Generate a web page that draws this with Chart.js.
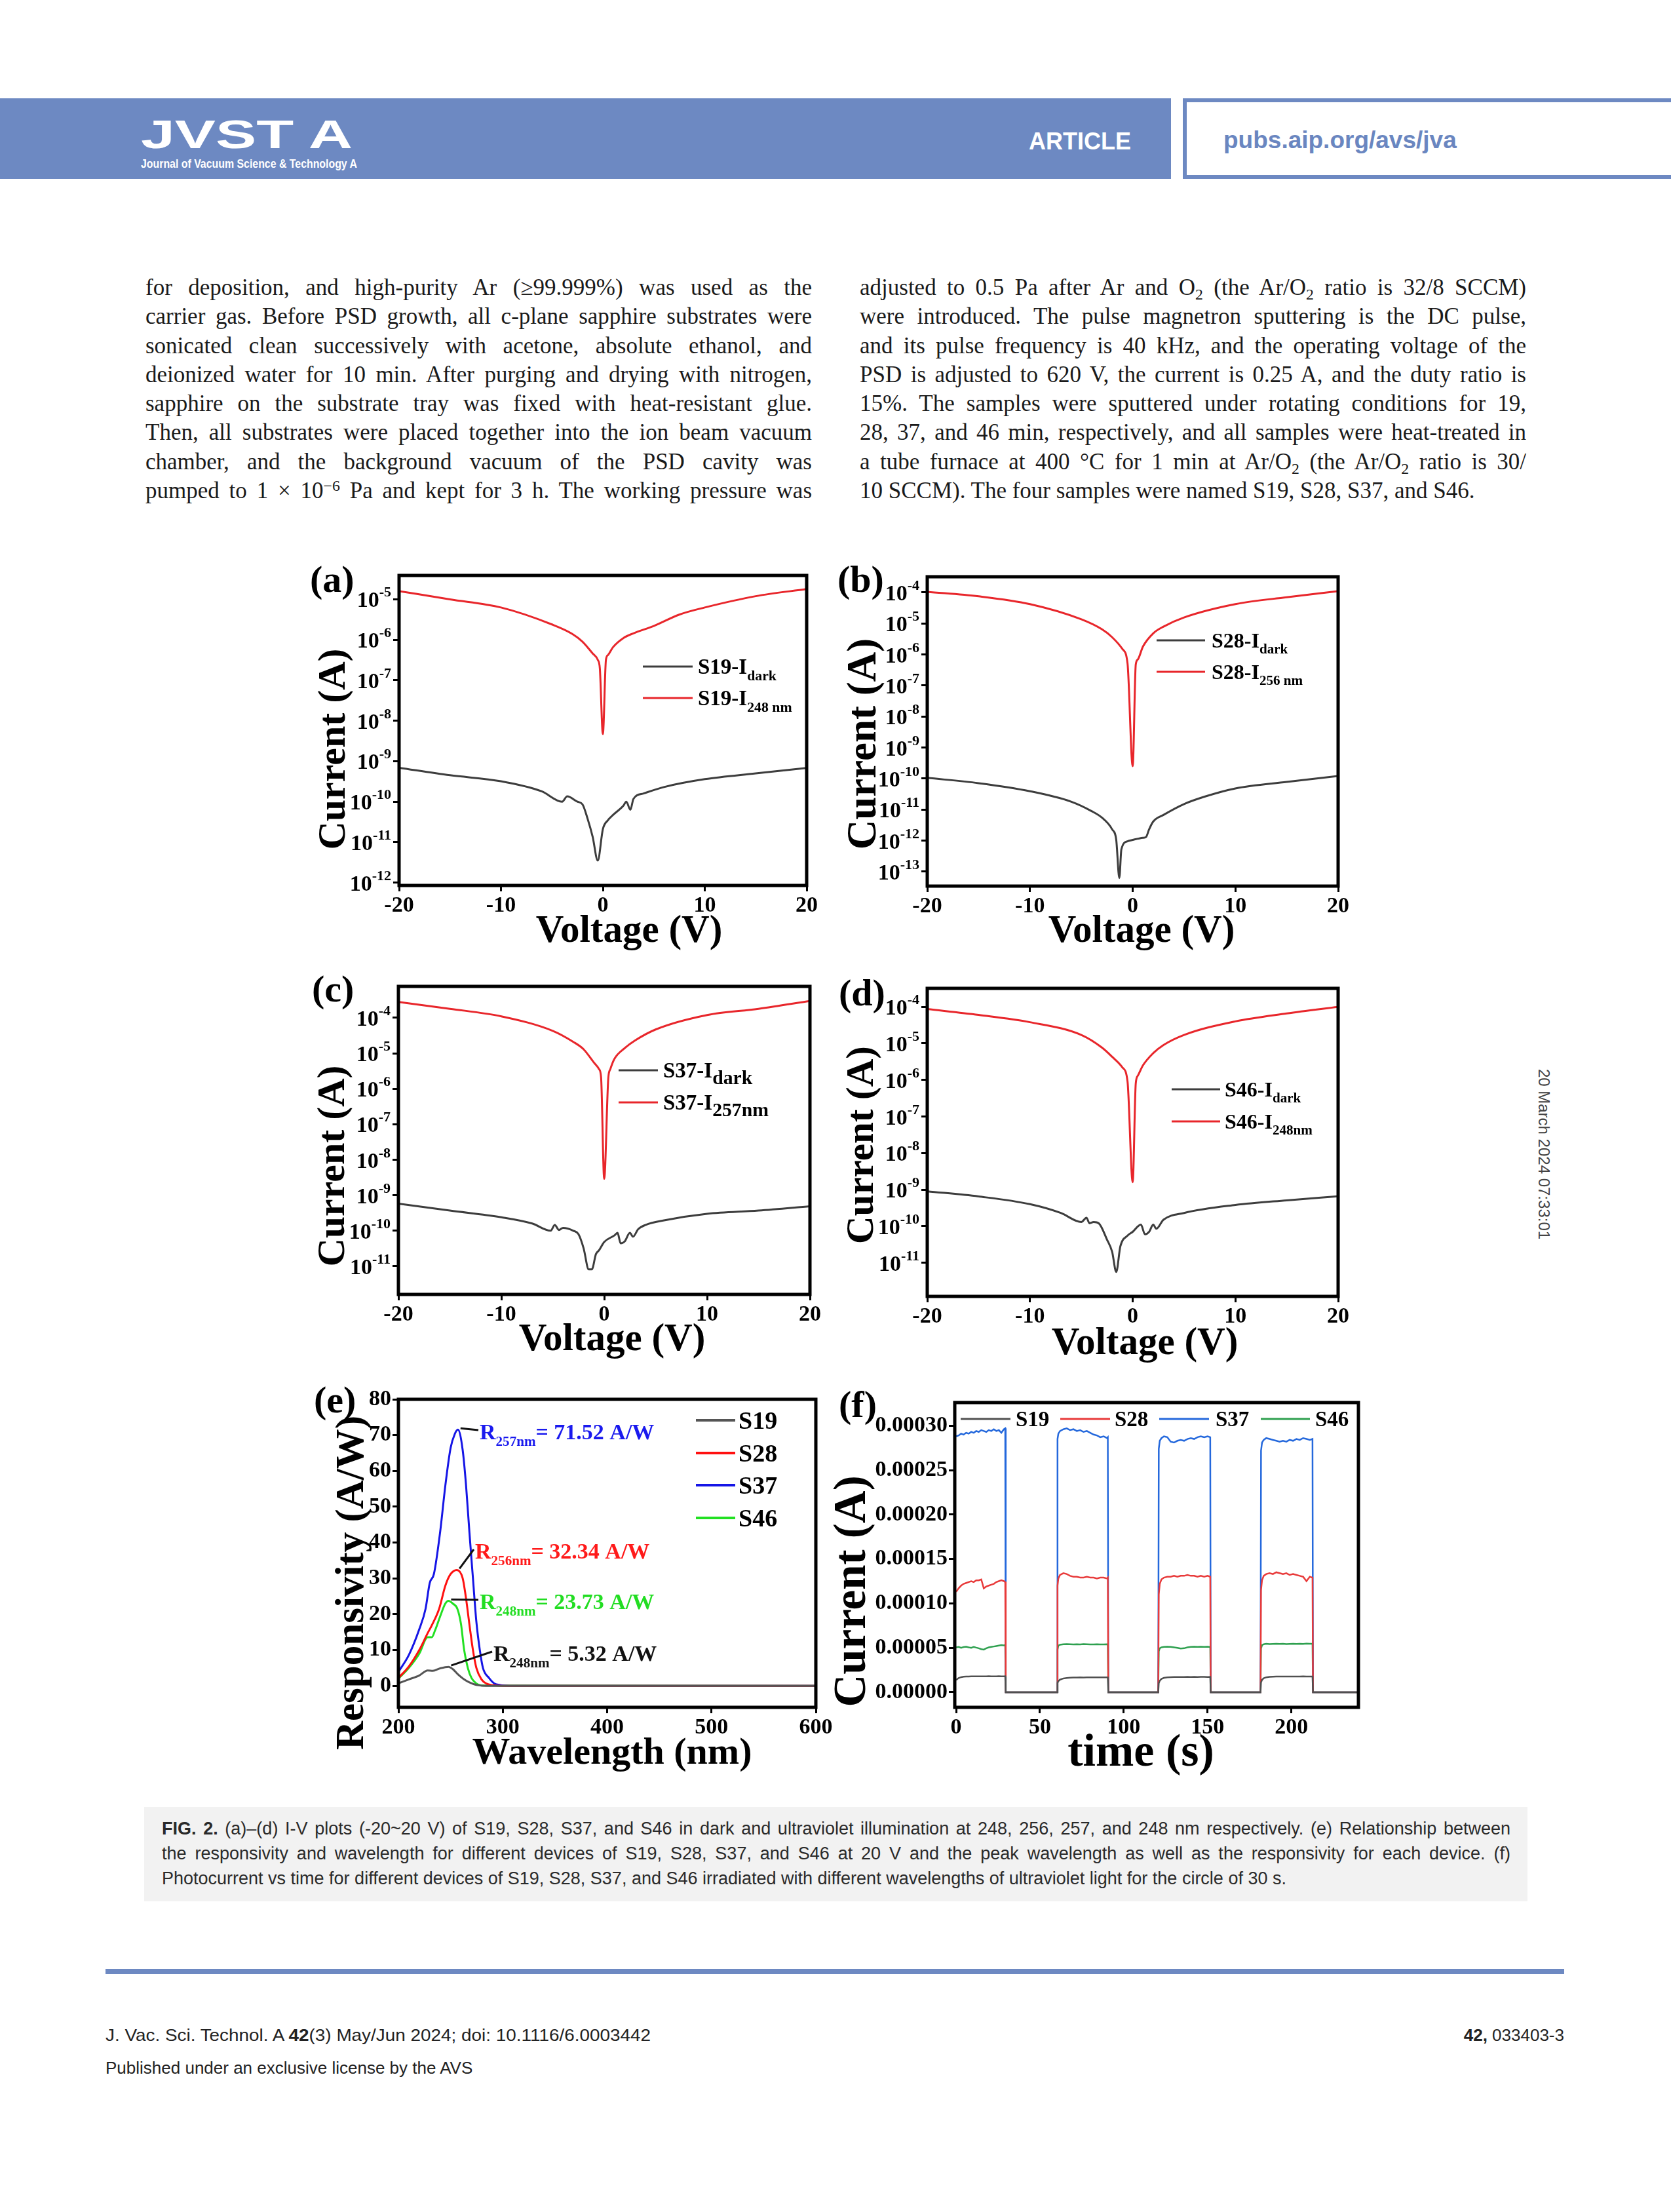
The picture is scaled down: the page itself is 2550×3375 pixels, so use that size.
<!DOCTYPE html>
<html>
<head>
<meta charset="utf-8">
<title>JVST A - Fig. 2</title>
<script src="https://cdn.jsdelivr.net/npm/chart.js@4.4.1/dist/chart.umd.min.js"></script>
<style>
  html, body { margin: 0; padding: 0; background: #fff; }
  #page { position: relative; width: 2550px; height: 3375px; overflow: hidden; background: #fff; }
  .abs { position: absolute; }
  .jl { position: absolute; white-space: nowrap; }
  .txt { font-family: "Liberation Serif", "Times New Roman", serif; font-size: 35px; line-height: 44px; color: #1a1a1a; }
  .txt sub { font-size: 0.68em; vertical-align: -0.28em; line-height: 0; }
  .txt sup { font-size: 0.68em; vertical-align: 0.45em; line-height: 0; }
  .cap { font-family: "Liberation Sans", Arial, sans-serif; font-size: 27px; line-height: 30px; color: #2a2a2a; }
  .foot { font-family: "Liberation Sans", Arial, sans-serif; font-size: 26px; line-height: 30px; color: #222; white-space: nowrap; }
  .fx { transform-origin: 0 0; white-space: nowrap; }
  canvas { position: absolute; }
</style>
</head>
<body>
<div id="page">
  <!-- header -->
  <div class="abs" style="left:0;top:150px;width:1787px;height:123px;background:#6d89c2"></div>
  <div class="abs" style="left:1805px;top:150px;width:745px;height:123px;border:6px solid #6d89c2;border-right:0;box-sizing:border-box"></div>
  <div class="abs fx" data-w="323" style="left:215px;top:174px;font:bold 62px/62px 'Liberation Sans',Arial,sans-serif;color:#fff">JVST A</div>
  <div class="abs fx" data-w="330" style="left:215px;top:240px;font:bold 19px/19px 'Liberation Sans',Arial,sans-serif;color:#fff">Journal of Vacuum Science &amp; Technology A</div>
  <div class="abs" style="left:1570px;top:198px;font:bold 36px/36px 'Liberation Sans',Arial,sans-serif;color:#fff">ARTICLE</div>
  <div class="abs" style="left:1867px;top:195px;font:bold 37px/37px 'Liberation Sans',Arial,sans-serif;color:#6a86c0">pubs.aip.org/avs/jva</div>

  <!-- body text, left column -->
  <div class="jl txt" data-w="1017" style="left:222px;top:417px">for deposition, and high-purity Ar (≥99.999%) was used as the</div>
  <div class="jl txt" data-w="1017" style="left:222px;top:461px">carrier gas. Before PSD growth, all c-plane sapphire substrates were</div>
  <div class="jl txt" data-w="1017" style="left:222px;top:506px">sonicated clean successively with acetone, absolute ethanol, and</div>
  <div class="jl txt" data-w="1017" style="left:222px;top:550px">deionized water for 10 min. After purging and drying with nitrogen,</div>
  <div class="jl txt" data-w="1017" style="left:222px;top:594px">sapphire on the substrate tray was fixed with heat-resistant glue.</div>
  <div class="jl txt" data-w="1017" style="left:222px;top:638px">Then, all substrates were placed together into the ion beam vacuum</div>
  <div class="jl txt" data-w="1017" style="left:222px;top:683px">chamber, and the background vacuum of the PSD cavity was</div>
  <div class="jl txt" data-w="1017" style="left:222px;top:727px">pumped to 1 × 10<sup>−6</sup> Pa and kept for 3 h. The working pressure was</div>
  <!-- right column -->
  <div class="jl txt" data-w="1017" style="left:1312px;top:417px">adjusted to 0.5 Pa after Ar and O<sub>2</sub> (the Ar/O<sub>2</sub> ratio is 32/8 SCCM)</div>
  <div class="jl txt" data-w="1017" style="left:1312px;top:461px">were introduced. The pulse magnetron sputtering is the DC pulse,</div>
  <div class="jl txt" data-w="1017" style="left:1312px;top:506px">and its pulse frequency is 40 kHz, and the operating voltage of the</div>
  <div class="jl txt" data-w="1017" style="left:1312px;top:550px">PSD is adjusted to 620 V, the current is 0.25 A, and the duty ratio is</div>
  <div class="jl txt" data-w="1017" style="left:1312px;top:594px">15%. The samples were sputtered under rotating conditions for 19,</div>
  <div class="jl txt" data-w="1017" style="left:1312px;top:638px">28, 37, and 46 min, respectively, and all samples were heat-treated in</div>
  <div class="jl txt" data-w="1017" style="left:1312px;top:683px">a tube furnace at 400 °C for 1 min at Ar/O<sub>2</sub> (the Ar/O<sub>2</sub> ratio is 30/</div>
  <div class="abs txt" style="left:1312px;top:727px;white-space:nowrap">10 SCCM). The four samples were named S19, S28, S37, and S46.</div>

  <!-- figure panels -->
  <canvas id="cA"></canvas>
  <canvas id="cB"></canvas>
  <canvas id="cC"></canvas>
  <canvas id="cD"></canvas>
  <canvas id="cE"></canvas>
  <canvas id="cF"></canvas>

  <!-- side stamp -->
  <div class="abs" style="left:2356px;top:1761px;transform:translate(-50%,-50%) rotate(90deg);font:24px 'Liberation Sans',Arial,sans-serif;color:#444;white-space:nowrap">20 March 2024 07:33:01</div>

  <!-- caption -->
  <div class="abs" style="left:220px;top:2757px;width:2111px;height:144px;background:#f2f2f2"></div>
  <div class="jl cap" data-w="2058" style="left:247px;top:2775px"><b>FIG. 2.</b> (a)–(d) I-V plots (-20~20 V) of S19, S28, S37, and S46 in dark and ultraviolet illumination at 248, 256, 257, and 248 nm respectively. (e) Relationship between</div>
  <div class="jl cap" data-w="2058" style="left:247px;top:2813px">the responsivity and wavelength for different devices of S19, S28, S37, and S46 at 20 V and the peak wavelength as well as the responsivity for each device. (f)</div>
  <div class="abs cap" style="left:247px;top:2851px;white-space:nowrap">Photocurrent vs time for different devices of S19, S28, S37, and S46 irradiated with different wavelengths of ultraviolet light for the circle of 30 s.</div>

  <!-- footer -->
  <div class="abs" style="left:161px;top:3004px;width:2226px;height:8px;background:#6d89c2"></div>
  <div class="abs foot fx" data-w="832" style="left:161px;top:3090px">J. Vac. Sci. Technol. A <b>42</b>(3) May/Jun 2024; doi: 10.1116/6.0003442</div>
  <div class="abs foot" style="right:163px;top:3090px"><b>42,</b> 033403-3</div>
  <div class="abs foot" style="left:161px;top:3140px">Published under an exclusive license by the AVS</div>
</div>

<script>
// ---------- (a) S19 ----------
const voltA_dark = [-20, -15, -10, -6, -4, -3.5, -2.5, -2, -1.5, -1, -0.5, 0, 0.5, 1, 2, 2.3, 2.7, 3, 4, 6, 10, 15, 20];
const curA_dark = [6.9e-10, 4.5e-10, 3.2e-10, 1.8e-10, 1.0e-10, 1.35e-10, 1.0e-10, 8.6e-11, 3.8e-11, 1.35e-11, 3.5e-12, 2.1e-11, 3.5e-11, 4.7e-11, 7.9e-11, 1.0e-10, 6.3e-11, 1.17e-10, 1.6e-10, 2.3e-10, 3.6e-10, 5.0e-10, 6.8e-10];
const voltA_uv = [-20, -15, -10, -5, -3, -2, -1, -0.5, -0.3, 0, 0.3, 0.5, 1, 2, 3, 5, 7.5, 10, 15, 20];
const curA_uv = [1.6e-5, 1.0e-5, 6.3e-6, 2.4e-6, 1.4e-6, 9.0e-7, 4.6e-7, 3.2e-7, 2.0e-7, 4.7e-9, 3.2e-7, 4.2e-7, 6.6e-7, 1.1e-6, 1.45e-6, 2.2e-6, 4.2e-6, 6.3e-6, 1.2e-5, 1.8e-5];

// ---------- (b) S28 ----------
const voltB_dark = [-20, -15, -10, -6, -4, -3, -2, -1.6, -1.3, -1.1, -0.5, 0, 1, 1.3, 1.6, 2, 3, 5, 7, 10, 15, 20];
const curB_dark = [1.05e-10, 7.1e-11, 3.9e-11, 1.8e-11, 8.9e-12, 5.5e-12, 2.3e-12, 1.05e-12, 6.2e-14, 5.2e-13, 9.5e-13, 1.05e-12, 1.23e-12, 1.3e-12, 2.3e-12, 4.1e-12, 6.7e-12, 1.5e-11, 2.6e-11, 4.8e-11, 7.8e-11, 1.2e-10];
const voltB_uv = [-20, -15, -10, -5, -3, -2, -1, -0.5, 0, 0.3, 0.5, 1, 2, 3, 5, 10, 15, 20];
const curB_uv = [1.05e-4, 7.5e-5, 4.2e-5, 1.36e-5, 6.5e-6, 3.6e-6, 1.5e-6, 5.1e-7, 2.5e-10, 4.7e-7, 6.9e-7, 1.8e-6, 4.8e-6, 7.9e-6, 1.56e-5, 4.2e-5, 7.0e-5, 1.1e-4];

// ---------- (c) S37 ----------
const voltC_dark = [-20, -15, -10, -7, -5.2, -4.8, -4.4, -4, -3, -2.5, -2, -1.5, -1.2, -0.8, -0.5, 0, 1, 1.3, 1.6, 2, 2.5, 2.8, 3.3, 4, 6, 10, 15, 20];
const curC_dark = [5.8e-10, 3.7e-10, 2.4e-10, 1.6e-10, 1.0e-10, 1.45e-10, 1.05e-10, 1.2e-10, 1.0e-10, 8.0e-11, 3.2e-11, 8.1e-12, 8.1e-12, 2.2e-11, 2.8e-11, 4.8e-11, 7.4e-11, 8.7e-11, 4.4e-11, 5.0e-11, 8.7e-11, 6.8e-11, 1.1e-10, 1.45e-10, 2.0e-10, 3.0e-10, 3.7e-10, 4.9e-10];
const voltC_uv = [-20, -15, -10, -5, -3, -2, -1, -0.5, -0.3, 0, 0.4, 0.6, 1, 2, 3, 5, 10, 15, 20];
const curC_uv = [2.8e-4, 1.8e-4, 1.1e-4, 4.3e-5, 2.1e-5, 1.3e-5, 5.5e-6, 3.6e-6, 2.1e-6, 2.9e-9, 2.0e-6, 3.6e-6, 7.0e-6, 1.4e-5, 2.3e-5, 4.7e-5, 1.2e-4, 1.8e-4, 3.0e-4];

// ---------- (d) S46 ----------
const voltD_dark = [-20, -15, -10, -7, -5, -4.5, -4.2, -3.8, -3.3, -2.5, -2, -1.6, -1.2, -0.5, 0, 0.8, 1.2, 1.6, 2, 2.3, 3, 5, 10, 15, 20];
const curD_dark = [9.0e-10, 6.5e-10, 4.0e-10, 2.3e-10, 1.3e-10, 1.7e-10, 1.2e-10, 1.3e-10, 1.2e-10, 4.3e-11, 2.0e-11, 5.6e-12, 2.8e-11, 5.5e-11, 7.0e-11, 1.1e-10, 6.0e-11, 7.0e-11, 1.1e-10, 8.5e-11, 1.5e-10, 2.3e-10, 3.8e-10, 5.1e-10, 6.6e-10];
const voltD_uv = [-20, -15, -10, -5, -3, -2, -1, -0.5, 0, 0.3, 0.5, 1, 2, 3, 5, 10, 15, 20];
const curD_uv = [8.7e-5, 6.0e-5, 3.8e-5, 1.7e-5, 7.7e-6, 4.3e-6, 2.2e-6, 9.0e-7, 1.6e-9, 8.0e-7, 1.3e-6, 2.5e-6, 5.4e-6, 9.0e-6, 1.7e-5, 4.0e-5, 6.6e-5, 1.0e-4];

// ---------- (e) responsivity ----------
const wlS19 = [200, 210, 220, 228, 233, 240, 248, 252, 257, 262, 267, 272, 277, 284, 290, 300, 350, 600];
const respS19 = [0.7, 1.8, 2.9, 4.3, 4.2, 4.9, 5.32, 4.7, 3.2, 2.0, 1.1, 0.5, 0.15, 0, 0, 0, 0, 0];
const wlS28 = [200, 210, 220, 228, 232, 239, 245, 250, 256, 261.5, 264.8, 268, 271.4, 274.7, 279.6, 284.5, 290, 300, 600];
const respS28 = [2.2, 5.4, 10, 14.7, 16.9, 21.5, 28, 31.2, 32.34, 30.1, 24.4, 17.2, 10, 5, 1.8, 0.6, 0.2, 0, 0];
const wlS37 = [200, 210, 220, 226, 230, 234, 240, 245, 250, 254, 257, 261.5, 264.8, 268, 271.4, 274.7, 278, 281, 286.8, 291.7, 298, 310, 600];
const respS37 = [3.9, 8.6, 15.8, 21.5, 28.7, 31.2, 43, 56, 66.4, 70.3, 71.52, 66, 56, 43, 30.1, 17.9, 10, 5, 2.2, 0.7, 0.2, 0, 0];
const wlS46 = [200, 210, 220, 228, 232, 235, 240, 245, 248, 252, 256.5, 260, 263, 266.5, 270, 274.5, 279.5, 600];
const respS46 = [2, 5, 9, 13.6, 13.6, 15.4, 19.4, 23, 23.73, 23, 21.5, 17.2, 10, 5, 2.2, 0.7, 0.1, 0];
const peakWl = [248, 256, 257, 248];          // S19, S28, S37, S46
const peakResp = [5.32, 32.34, 71.52, 23.73];

// ---------- (f) photocurrent vs time ----------
const timeF = [0, 1.5, 3, 4.5, 6, 7.5, 9, 10.5, 12, 13.5, 15, 16.5, 18, 19.5, 21, 22.5, 24, 25.5, 27, 28.5, 29.3,
  29.6, 45, 60.2,
  60.5, 61, 62, 64, 66, 68, 70, 72, 74, 76, 78, 80, 82, 84, 86, 88, 90, 90.5,
  90.8, 105, 120.6,
  120.9, 121.5, 122.5, 124, 126, 128, 130, 132, 134, 136, 138, 140, 142, 144, 146, 148, 150, 151.6,
  151.9, 166, 181.6,
  181.9, 182.5, 183.5, 185, 187, 189, 191, 193, 195, 197, 199, 201, 203, 205, 207, 209, 211, 212.6,
  212.9, 240];
const photoS19 = [1.38e-5, 1.60e-5, 1.70e-5, 1.74e-5, 1.76e-5, 1.77e-5, 1.78e-5, 1.78e-5, 1.79e-5, 1.78e-5, 1.79e-5, 1.78e-5, 1.79e-5, 1.80e-5, 1.79e-5, 1.78e-5, 1.79e-5, 1.80e-5, 1.79e-5, 1.78e-5, 1.79e-5,
  0, 0, 0,
  1.05e-5, 1.25e-5, 1.42e-5, 1.55e-5, 1.60e-5, 1.63e-5, 1.65e-5, 1.66e-5, 1.67e-5, 1.66e-5, 1.67e-5, 1.68e-5, 1.67e-5, 1.68e-5, 1.67e-5, 1.68e-5, 1.68e-5, 1.67e-5,
  0, 0, 0,
  1.00e-5, 1.30e-5, 1.50e-5, 1.62e-5, 1.68e-5, 1.70e-5, 1.71e-5, 1.72e-5, 1.71e-5, 1.72e-5, 1.73e-5, 1.72e-5, 1.73e-5, 1.72e-5, 1.73e-5, 1.73e-5, 1.72e-5, 1.73e-5,
  0, 0, 0,
  1.10e-5, 1.40e-5, 1.58e-5, 1.68e-5, 1.73e-5, 1.75e-5, 1.76e-5, 1.76e-5, 1.77e-5, 1.76e-5, 1.77e-5, 1.77e-5, 1.76e-5, 1.77e-5, 1.78e-5, 1.77e-5, 1.77e-5, 1.77e-5,
  0, 0];
const photoS28 = [1.13e-4, 1.17e-4, 1.20e-4, 1.22e-4, 1.23e-4, 1.24e-4, 1.25e-4, 1.24e-4, 1.26e-4, 1.26e-4, 1.27e-4, 1.17e-4, 1.19e-4, 1.20e-4, 1.21e-4, 1.22e-4, 1.24e-4, 1.25e-4, 1.26e-4, 1.25e-4, 1.24e-4,
  0, 0, 0,
  1.20e-4, 1.28e-4, 1.32e-4, 1.34e-4, 1.33e-4, 1.31e-4, 1.30e-4, 1.30e-4, 1.29e-4, 1.29e-4, 1.30e-4, 1.29e-4, 1.29e-4, 1.28e-4, 1.29e-4, 1.29e-4, 1.28e-4, 1.29e-4,
  0, 0, 0,
  1.10e-4, 1.22e-4, 1.27e-4, 1.29e-4, 1.30e-4, 1.30e-4, 1.31e-4, 1.30e-4, 1.31e-4, 1.31e-4, 1.32e-4, 1.31e-4, 1.31e-4, 1.30e-4, 1.31e-4, 1.30e-4, 1.31e-4, 1.30e-4,
  0, 0, 0,
  1.15e-4, 1.26e-4, 1.31e-4, 1.33e-4, 1.34e-4, 1.33e-4, 1.35e-4, 1.34e-4, 1.33e-4, 1.34e-4, 1.32e-4, 1.33e-4, 1.32e-4, 1.31e-4, 1.30e-4, 1.25e-4, 1.30e-4, 1.29e-4,
  0, 0];
const photoS37 = [2.88e-4, 2.89e-4, 2.91e-4, 2.90e-4, 2.92e-4, 2.91e-4, 2.93e-4, 2.92e-4, 2.94e-4, 2.93e-4, 2.95e-4, 2.94e-4, 2.93e-4, 2.95e-4, 2.94e-4, 2.96e-4, 2.94e-4, 2.95e-4, 2.92e-4, 2.96e-4, 2.97e-4,
  0, 0, 0,
  2.85e-4, 2.91e-4, 2.94e-4, 2.96e-4, 2.97e-4, 2.95e-4, 2.96e-4, 2.94e-4, 2.95e-4, 2.93e-4, 2.94e-4, 2.92e-4, 2.90e-4, 2.89e-4, 2.87e-4, 2.88e-4, 2.86e-4, 2.87e-4,
  0, 0, 0,
  2.74e-4, 2.83e-4, 2.86e-4, 2.88e-4, 2.87e-4, 2.82e-4, 2.81e-4, 2.83e-4, 2.84e-4, 2.83e-4, 2.85e-4, 2.86e-4, 2.85e-4, 2.87e-4, 2.88e-4, 2.87e-4, 2.88e-4, 2.87e-4,
  0, 0, 0,
  2.72e-4, 2.81e-4, 2.84e-4, 2.86e-4, 2.85e-4, 2.84e-4, 2.83e-4, 2.82e-4, 2.83e-4, 2.82e-4, 2.84e-4, 2.83e-4, 2.85e-4, 2.84e-4, 2.86e-4, 2.85e-4, 2.84e-4, 2.85e-4,
  0, 0];
const photoS46 = [5.05e-5, 5.10e-5, 5.00e-5, 5.08e-5, 5.12e-5, 5.05e-5, 5.00e-5, 5.10e-5, 5.02e-5, 4.95e-5, 4.85e-5, 4.80e-5, 4.95e-5, 5.05e-5, 5.10e-5, 5.15e-5, 5.20e-5, 5.25e-5, 5.30e-5, 5.28e-5, 5.32e-5,
  0, 0, 0,
  4.80e-5, 5.25e-5, 5.35e-5, 5.40e-5, 5.42e-5, 5.40e-5, 5.38e-5, 5.40e-5, 5.39e-5, 5.41e-5, 5.40e-5, 5.38e-5, 5.39e-5, 5.40e-5, 5.38e-5, 5.39e-5, 5.40e-5, 5.38e-5,
  0, 0, 0,
  4.60e-5, 4.95e-5, 5.05e-5, 5.10e-5, 5.12e-5, 5.10e-5, 5.05e-5, 5.00e-5, 4.92e-5, 4.95e-5, 5.05e-5, 5.10e-5, 5.12e-5, 5.10e-5, 5.12e-5, 5.11e-5, 5.12e-5, 5.10e-5,
  0, 0, 0,
  4.90e-5, 5.30e-5, 5.40e-5, 5.45e-5, 5.42e-5, 5.44e-5, 5.46e-5, 5.43e-5, 5.45e-5, 5.42e-5, 5.44e-5, 5.46e-5, 5.44e-5, 5.45e-5, 5.43e-5, 5.47e-5, 5.45e-5, 5.46e-5,
  0, 0];

// ---------- tick lists ----------
const ivVoltTicks = [-20, -10, 0, 10, 20];
const expA = [-12, -11, -10, -9, -8, -7, -6, -5];
const expB = [-13, -12, -11, -10, -9, -8, -7, -6, -5, -4];
const expC = [-11, -10, -9, -8, -7, -6, -5, -4];
const expD = [-11, -10, -9, -8, -7, -6, -5, -4];
const wlTicks = [200, 300, 400, 500, 600];
const respTicks = [0, 10, 20, 30, 40, 50, 60, 70, 80];
const timeTicks = [0, 50, 100, 150, 200];
const photoTicks = [0, 0.00005, 0.0001, 0.00015, 0.0002, 0.00025, 0.0003];

// ---------- helpers ----------
const SERIF = '"Liberation Serif", "Times New Roman", serif';
const DARK = '#3d3d3d', RED = '#e8262b';

function pts(xs, ys) {
  return xs.map((x, i) => ({ x: x, y: ys[i] }));
}

function line(xs, ys, color, w, smooth) {
  return {
    data: pts(xs, ys), borderColor: color, borderWidth: w, pointRadius: 0, fill: false,
    tension: 0, cubicInterpolationMode: smooth ? 'monotone' : 'default'
  };
}

function axis(extra, ticksExtra) {
  const s = {
    grid: { drawOnChartArea: false, drawTicks: true, tickLength: 9, tickWidth: 3, tickColor: '#000' },
    border: { display: false },
    ticks: Object.assign({ font: { family: SERIF, size: 34, weight: 'bold' }, color: '#000', padding: 2,
      autoSkip: false, maxRotation: 0, minRotation: 0 }, ticksExtra || {})
  };
  return Object.assign(s, extra);
}

function fixedTicks(list) {
  return s => { s.ticks = list.map(v => ({ value: v })); };
}

// rich text: parts = [[text, isSub]], y is vertical middle of capitals
function rich(ctx, parts, x, y, size, subRatio, color) {
  ctx.fillStyle = color;
  ctx.textAlign = 'left';
  ctx.textBaseline = 'alphabetic';
  let cx = x;
  const base = y + size * 0.33;
  parts.forEach(p => {
    const fs = p[1] ? size * subRatio : size;
    ctx.font = 'bold ' + fs + 'px ' + SERIF;
    ctx.fillText(p[0], cx, base + (p[1] ? size * 0.3 : 0));
    cx += ctx.measureText(p[0]).width;
  });
}

// "10" with a raised exponent, right edge at x, centred on tick y
function powerLabel(ctx, value, x, y) {
  const e = String(Math.round(Math.log10(value)));
  ctx.fillStyle = '#000';
  ctx.textAlign = 'right';
  ctx.textBaseline = 'alphabetic';
  ctx.font = 'bold 22px ' + SERIF;
  const ew = ctx.measureText(e).width;
  ctx.fillText(e, x, y - 4);
  ctx.font = 'bold 34px ' + SERIF;
  ctx.fillText('10', x - ew, y + 12);
}

const decor = {
  id: 'decor',
  afterDatasetsDraw(chart, args, o) {
    const ctx = chart.ctx, a = chart.chartArea, ox = o.origin[0], oy = o.origin[1];
    ctx.save();
    (o.notes || []).forEach(n => {
      const px = chart.scales.x.getPixelForValue(n.wl), py = chart.scales.y.getPixelForValue(n.r);
      ctx.strokeStyle = '#111'; ctx.lineWidth = 3;
      ctx.beginPath(); ctx.moveTo(px + 4, py - 2); ctx.lineTo(n.x - ox - 2, n.y - oy - 3); ctx.stroke();
      rich(ctx, n.parts, n.x - ox, n.y - oy, n.size, 0.62, n.color);
    });
    ctx.lineWidth = 5; ctx.strokeStyle = '#000';
    ctx.strokeRect(a.left, a.top, a.right - a.left, a.bottom - a.top);
    if (o.powerTicks) {
      const ys = chart.scales.y;
      ys.ticks.forEach(t => powerLabel(ctx, t.value, a.left - 12, ys.getPixelForValue(t.value)));
    }
    (o.legend || []).forEach(l => {
      ctx.strokeStyle = l.color; ctx.lineWidth = l.w || 3;
      ctx.beginPath(); ctx.moveTo(l.x1 - ox, l.y - oy); ctx.lineTo(l.x2 - ox, l.y - oy); ctx.stroke();
      rich(ctx, l.parts, l.tx - ox, l.y - oy, l.size, l.sub || 0.66, '#000');
    });
    (o.texts || []).forEach(t => {
      ctx.save();
      ctx.translate(t.x - ox, t.y - oy);
      if (t.rot) ctx.rotate(-Math.PI / 2);
      ctx.font = 'bold ' + t.size + 'px ' + SERIF;
      ctx.fillStyle = '#000';
      ctx.textAlign = t.align || 'center';
      ctx.textBaseline = 'middle';
      ctx.fillText(t.text, 0, 0);
      ctx.restore();
    });
    ctx.restore();
  }
};

// cv = [left, top, width, height] of canvas on the page, box = [left, top, right, bottom] of plot frame
function makeChart(id, cv, box, datasets, xOpt, yOpt, deco) {
  const c = document.getElementById(id);
  c.width = cv[2]; c.height = cv[3];
  c.style.left = cv[0] + 'px'; c.style.top = cv[1] + 'px';
  deco.origin = [cv[0], cv[1]];
  xOpt.afterFit = s => { s.height = cv[1] + cv[3] - box[3]; };
  yOpt.afterFit = s => { s.width = box[0] - cv[0]; };
  return new Chart(c, {
    type: 'line',
    data: { datasets: datasets },
    options: {
      responsive: false, animation: false, devicePixelRatio: 1,
      layout: { padding: { left: 0, top: box[1] - cv[1], right: cv[0] + cv[2] - box[2], bottom: 0 } },
      plugins: { legend: { display: false }, tooltip: { enabled: false }, decor: deco },
      scales: { x: xOpt, y: yOpt }
    },
    plugins: [decor]
  });
}

function ivX() {
  return axis({ type: 'linear', min: -20, max: 20, afterBuildTicks: fixedTicks(ivVoltTicks) });
}
function ivY(min, max, exps) {
  // labels drawn by the decor plugin as 10 with a raised exponent
  return axis({ type: 'logarithmic', min: min, max: max, afterBuildTicks: fixedTicks(exps.map(e => Math.pow(10, e))) },
    { display: false });
}
function ivLegend(x1, x2, tx, y1, y2, size, subRatio, name, sub1, sub2) {
  return [
    { color: DARK, x1: x1, x2: x2, tx: tx, y: y1, size: size, sub: subRatio, parts: [[name + '-I', 0], [sub1, 1]] },
    { color: RED, x1: x1, x2: x2, tx: tx, y: y2, size: size, sub: subRatio, parts: [[name + '-I', 0], [sub2, 1]] }
  ];
}

// ---------- (a) ----------
makeChart('cA', [440, 840, 825, 620], [609, 878, 1231, 1351],
  [line(voltA_dark, curA_dark, DARK, 3, true), line(voltA_uv, curA_uv, RED, 3, true)],
  ivX(), ivY(8.5e-13, 3.9e-5, expA),
  { powerTicks: true,
    texts: [
      { text: '(a)', x: 473, y: 888, size: 58, align: 'left' },
      { text: 'Current (A)', x: 510, y: 1143, size: 60, rot: true },
      { text: 'Voltage (V)', x: 960, y: 1422, size: 59 }],
    legend: ivLegend(981, 1057, 1065, 1017, 1065, 33, 0.66, 'S19', 'dark', '248 nm') });

// ---------- (b) ----------
makeChart('cB', [1265, 840, 815, 620], [1415, 880, 2042, 1352],
  [line(voltB_dark, curB_dark, DARK, 3, true), line(voltB_uv, curB_uv, RED, 3, true)],
  ivX(), ivY(3.4e-14, 3.2e-4, expB),
  { powerTicks: true,
    texts: [
      { text: '(b)', x: 1278, y: 888, size: 58, align: 'left' },
      { text: 'Current (A)', x: 1320, y: 1135, size: 63, rot: true },
      { text: 'Voltage (V)', x: 1742, y: 1422, size: 59 }],
    legend: ivLegend(1765, 1839, 1849, 977, 1025, 32, 0.66, 'S28', 'dark', '256 nm') });

// ---------- (c) ----------
makeChart('cC', [440, 1470, 825, 620], [608, 1505, 1236, 1975],
  [line(voltC_dark, curC_dark, DARK, 3, true), line(voltC_uv, curC_uv, RED, 3, true)],
  ivX(), ivY(1.6e-12, 7.7e-4, expC),
  { powerTicks: true,
    texts: [
      { text: '(c)', x: 476, y: 1513, size: 58, align: 'left' },
      { text: 'Current (A)', x: 509, y: 1779, size: 60, rot: true },
      { text: 'Voltage (V)', x: 934, y: 2045, size: 59 }],
    legend: ivLegend(944, 1004, 1012, 1633, 1682, 33, 0.9, 'S37', 'dark', '257nm') });

// ---------- (d) ----------
makeChart('cD', [1265, 1470, 815, 620], [1415, 1508, 2042, 1978],
  [line(voltD_dark, curD_dark, DARK, 3, true), line(voltD_uv, curD_uv, RED, 3, true)],
  ivX(), ivY(1.2e-12, 3.2e-4, expD),
  { powerTicks: true,
    texts: [
      { text: '(d)', x: 1280, y: 1519, size: 58, align: 'left' },
      { text: 'Current (A)', x: 1317, y: 1747, size: 59, rot: true },
      { text: 'Voltage (V)', x: 1747, y: 2051, size: 59 }],
    legend: ivLegend(1788, 1862, 1869, 1662, 1711, 32, 0.66, 'S46', 'dark', '248nm') });

// ---------- (e) ----------
const E_COL = ['#555555', '#ff1010', '#1515e6', '#22e022'];
makeChart('cE', [440, 2100, 835, 620], [608, 2135, 1245, 2605],
  [line(wlS19, respS19, E_COL[0], 3, true), line(wlS28, respS28, E_COL[1], 3, true),
   line(wlS37, respS37, E_COL[2], 3, true), line(wlS46, respS46, E_COL[3], 3, true)],
  axis({ type: 'linear', min: 200, max: 600, afterBuildTicks: fixedTicks(wlTicks) }),
  axis({ type: 'linear', min: -6, max: 80, afterBuildTicks: fixedTicks(respTicks) }),
  { texts: [
      { text: '(e)', x: 479, y: 2140, size: 58, align: 'left' },
      { text: 'Responsivity (A/W)', x: 538, y: 2415, size: 61, rot: true },
      { text: 'Wavelength (nm)', x: 934, y: 2676, size: 58 }],
    legend: ['S19', 'S28', 'S37', 'S46'].map((n, i) => ({ color: E_COL[i], w: 4, x1: 1062, x2: 1122, tx: 1127,
      y: [2167, 2217, 2266, 2316][i], size: 38, parts: [[n, 0]] })),
    notes: [
      { wl: peakWl[2], r: peakResp[2], x: 732, y: 2185, size: 34, color: '#1a1aee',
        parts: [['R', 0], [peakWl[2] + 'nm', 1], ['= ' + peakResp[2].toFixed(2) + ' A/W', 0]] },
      { wl: peakWl[1], r: peakResp[1], x: 725, y: 2367, size: 34, color: '#ff1a1a',
        parts: [['R', 0], [peakWl[1] + 'nm', 1], ['= ' + peakResp[1].toFixed(2) + ' A/W', 0]] },
      { wl: peakWl[3], r: peakResp[3], x: 732, y: 2444, size: 34, color: '#22dd22',
        parts: [['R', 0], [peakWl[3] + 'nm', 1], ['= ' + peakResp[3].toFixed(2) + ' A/W', 0]] },
      { wl: peakWl[0], r: peakResp[0], x: 753, y: 2523, size: 34, color: '#111',
        parts: [['R', 0], [peakWl[0] + 'nm', 1], ['= ' + peakResp[0].toFixed(2) + ' A/W', 0]] }] });

// ---------- (f) ----------
const F_COL = ['#505050', '#e83a3a', '#2468dc', '#2ea04f'];
makeChart('cF', [1265, 2100, 825, 620], [1457, 2140, 2073, 2605],
  [line(timeF, photoS19, F_COL[0], 2.5, false), line(timeF, photoS28, F_COL[1], 2.5, false),
   line(timeF, photoS37, F_COL[2], 2.5, false), line(timeF, photoS46, F_COL[3], 2.5, false)],
  axis({ type: 'linear', min: -0.8, max: 240, afterBuildTicks: fixedTicks(timeTicks) }),
  axis({ type: 'linear', min: -1.7e-5, max: 3.26e-4, afterBuildTicks: fixedTicks(photoTicks) },
    { callback: v => v.toFixed(5) }),
  { texts: [
      { text: '(f)', x: 1280, y: 2147, size: 58, align: 'left' },
      { text: 'Current (A)', x: 1302, y: 2428, size: 69, rot: true },
      { text: 'time (s)', x: 1741, y: 2676, size: 70 }],
    legend: ['S19', 'S28', 'S37', 'S46'].map((n, i) => ({ color: F_COL[i], w: 3,
      x1: [1466, 1618, 1769, 1924][i], x2: [1542, 1694, 1845, 1999][i], tx: [1550, 1701, 1855, 2007][i],
      y: 2165, size: 33, parts: [[n, 0]] })) });

// ---------- text fitting ----------
document.querySelectorAll('.jl').forEach(el => {
  const target = parseFloat(el.dataset.w);
  const nat = el.getBoundingClientRect().width;
  const gaps = (el.textContent.match(/ /g) || []).length;
  if (gaps) el.style.wordSpacing = ((target - nat) / gaps) + 'px';
});
document.querySelectorAll('.fx').forEach(el => {
  const target = parseFloat(el.dataset.w);
  const nat = el.getBoundingClientRect().width;
  el.style.transform = 'scaleX(' + (target / nat) + ')';
});
</script>
</body>
</html>
